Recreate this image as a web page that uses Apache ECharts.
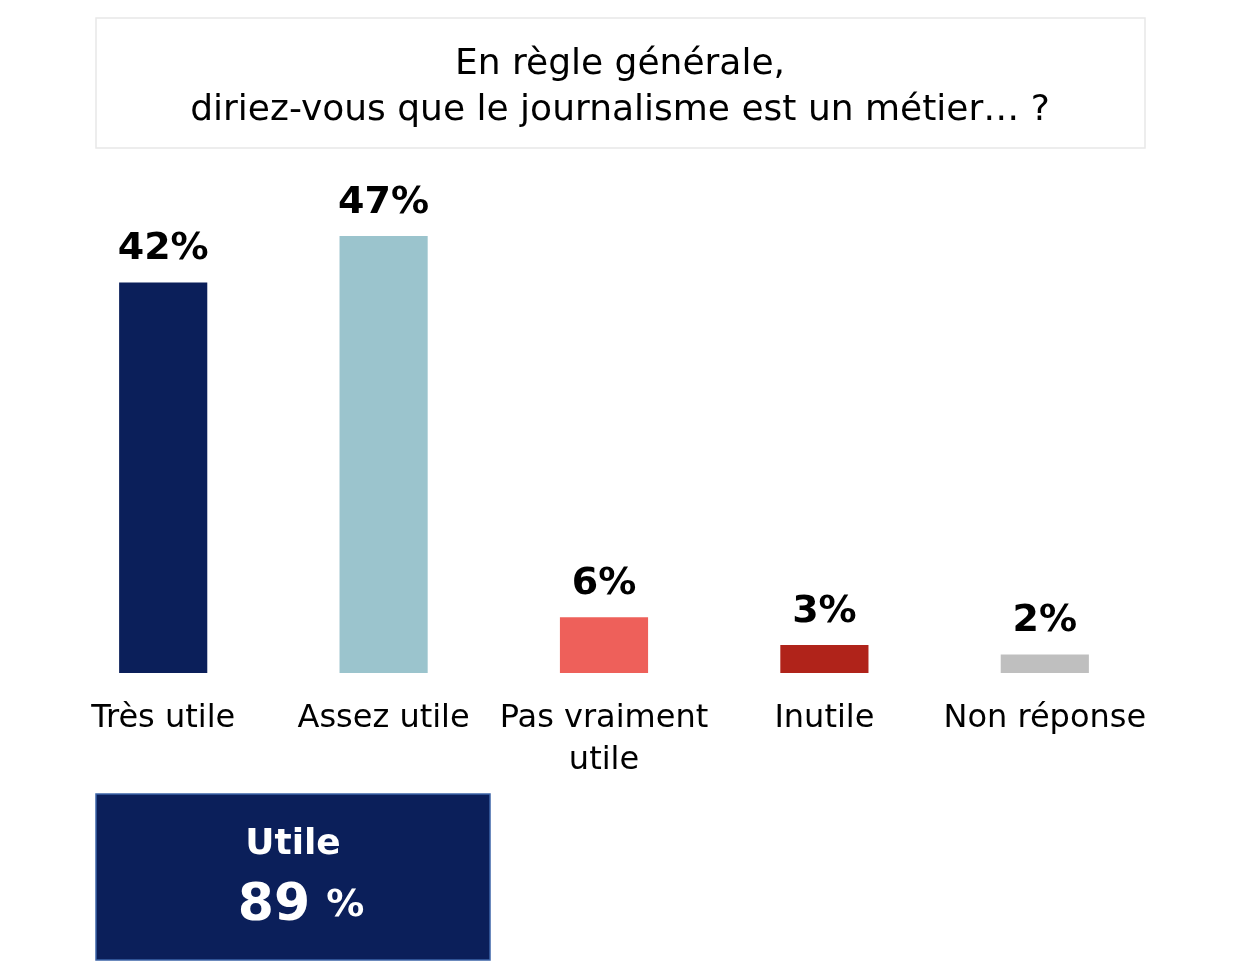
<!DOCTYPE html>
<html>
<head>
<meta charset="utf-8">
<script src="https://cdn.jsdelivr.net/npm/echarts@6/dist/echarts.min.js"></script>
<style>
html,body{margin:0;padding:0;background:#fff;}
#chart{width:1260px;height:970px;}
</style>
</head>
<body>
<div id="chart"></div>
<script>
const titleLines = ['En règle générale,', 'diriez-vous que le journalisme est un métier… ?'];
const categories = ['Très utile', 'Assez utile', 'Pas vraiment\nutile', 'Inutile', 'Non réponse'];
const values = [42, 47, 6, 3, 2];
const summaryLabel = 'Utile';
const summaryValue = 89;

const barColors = ['#0b1f5a', '#9bc4cd', '#ee605a', '#b0231a', '#bfbfbf'];
const FONT = '"DejaVu Sans", "Noto Sans", sans-serif';

const chart = echarts.init(document.getElementById('chart'));
chart.setOption({
  backgroundColor: '#ffffff',
  animation: false,
  grid: { left: 53, right: 105, top: 208, bottom: 297 },
  xAxis: {
    type: 'category',
    data: categories,
    axisLine: { show: false },
    axisTick: { show: false },
    axisLabel: {
      interval: 0,
      margin: 25,
      color: '#000',
      fontFamily: FONT,
      fontSize: 32,
      lineHeight: 42
    }
  },
  yAxis: {
    type: 'value',
    min: 0,
    max: 50,
    show: false,
    splitLine: { show: false }
  },
  series: [{
    type: 'bar',
    barWidth: '40%',
    data: values.map((v, i) => ({ value: v, itemStyle: { color: barColors[i] } })),
    label: {
      show: true,
      position: 'top',
      distance: 14,
      formatter: '{c}%',
      color: '#000',
      fontFamily: FONT,
      fontWeight: 'bold',
      fontSize: 38
    }
  }],
  graphic: [
    {
      type: 'rect',
      shape: { x: 96, y: 18, width: 1049, height: 130 },
      style: { fill: '#fff', stroke: '#e8e8e8', lineWidth: 1.5 },
      z: 0
    },
    {
      type: 'text',
      x: 620, y: 88,
      style: {
        text: titleLines.join('\n'),
        fill: '#000',
        font: '36px ' + FONT,
        lineHeight: 46,
        align: 'center',
        verticalAlign: 'middle'
      },
      z: 1
    },
    {
      type: 'rect',
      shape: { x: 96, y: 794, width: 394, height: 166 },
      style: { fill: '#0b1f5a', stroke: '#3d64a8', lineWidth: 1.5 },
      z: 0
    },
    {
      type: 'text',
      x: 293, y: 845,
      style: {
        text: summaryLabel,
        fill: '#fff',
        font: 'bold 36px ' + FONT,
        align: 'center',
        verticalAlign: 'middle'
      },
      z: 1
    },
    {
      type: 'text',
      x: 301, y: 906,
      style: {
        text: '{a|' + summaryValue + '}{b|%}',
        rich: {
          a: { fill: '#fff', fontFamily: FONT, fontWeight: 'bold', fontSize: 52 },
          b: { fill: '#fff', fontFamily: FONT, fontWeight: 'bold', fontSize: 38, padding: [0, 0, 0, 16] }
        },
        align: 'center',
        verticalAlign: 'middle'
      },
      z: 1
    }
  ]
});
</script>
</body>
</html>
